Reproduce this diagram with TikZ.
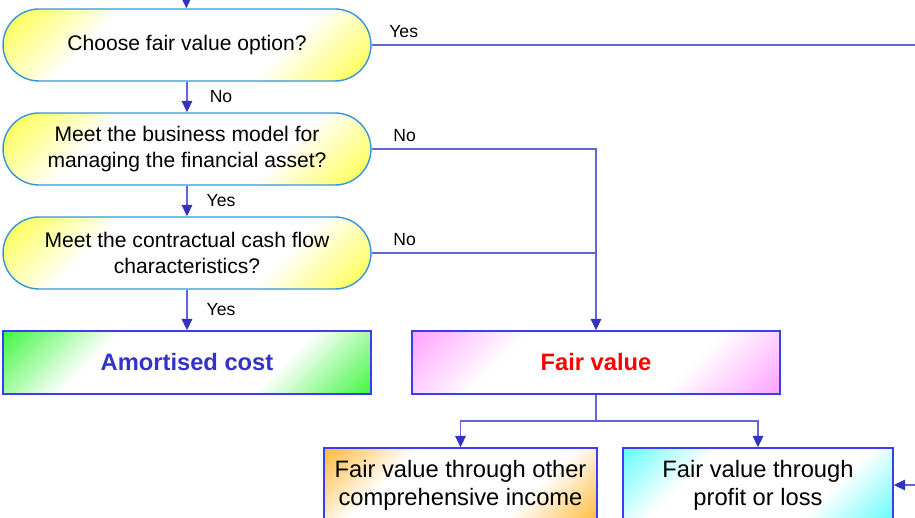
\documentclass[tikz,border=0pt]{standalone}
\usepackage{fontspec}
\setmainfont{Liberation Sans}
\usetikzlibrary{arrows.meta,positioning}

\definecolor{linkblue}{RGB}{100,100,210}
\definecolor{tipblue}{RGB}{51,51,190}
\definecolor{queryedge}{RGB}{51,150,220}
\definecolor{boxedge}{RGB}{60,60,240}
\definecolor{qyellow}{RGB}{255,255,40}
\definecolor{amortgreen}{RGB}{40,245,40}
\definecolor{fvpink}{RGB}{255,150,255}
\definecolor{ociorange}{RGB}{255,176,32}
\definecolor{plcyan}{RGB}{80,250,250}
\definecolor{amortblue}{RGB}{51,51,204}

\newcommand\CornerShading[2]{% name, corner colour
  \pgfdeclarehorizontalshading{#1}{100bp}{color(0bp)=(#2); color(12bp)=(#2);
    color(34bp)=(white); color(66bp)=(white); color(88bp)=(#2); color(100bp)=(#2)}%
}
\CornerShading{queryshade}{qyellow}
\CornerShading{amortshade}{amortgreen}
\CornerShading{fvshade}{fvpink}
\CornerShading{ocishade}{ociorange}
\CornerShading{plshade}{plcyan}

\tikzset{
  query/.style={draw=queryedge, line width=0.8pt, rounded corners=0.72cm,
    minimum width=7.36cm, minimum height=1.44cm, inner sep=0pt, align=center,
    shading=queryshade, shading angle=-45, font=\fontsize{12}{14.8}\selectfont},
  result/.style={draw=boxedge, line width=0.8pt, minimum width=7.36cm,
    minimum height=1.26cm, inner sep=0pt, shading angle=-45,
    font=\bfseries\fontsize{13.5}{16}\selectfont},
  kind/.style={draw=boxedge, line width=0.8pt, minimum height=1.48cm,
    inner sep=0pt, align=center, shading angle=-45,
    font=\fontsize{13.5}{15.9}\selectfont},
  link/.style={draw=linkblue, line width=0.8pt},
  arr/.style={link, -{Triangle[length=6.5pt,width=6pt,color=tipblue]}},
  lbl/.style={inner sep=0pt, font=\fontsize{10}{12}\selectfont},
}

\begin{document}
\begin{tikzpicture}[x=0.02cm, y=-0.02cm]
\useasboundingbox (0,0) rectangle (915,517);
\clip (0,0) rectangle (915,517);
% questions, left column
\node[query] (q1) at (187,45) {Choose fair value option?};
\node[query] (q2) at (187,149) {Meet the business model for\\managing the financial asset?};
\node[query] (q3) at (187,253) {Meet the contractual cash flow\\characteristics?};
% outcomes
\node[result, shading=amortshade, text=amortblue] (amort) at (187,362.5) {Amortised cost};
\node[result, shading=fvshade, text=red] (fv) at (596,362.5) {Fair value};
\node[kind, shading=ocishade, minimum width=5.46cm] (fvoci) at (460.5,485) {Fair value through other\\comprehensive income};
\node[kind, shading=plshade, minimum width=5.4cm] (fvtpl) at (758,485) {Fair value through\\profit or loss};
% free ends at the edges
\coordinate (entry) at (186,-20);
\coordinate (yesout) at (925,45);
\coordinate (split) at (596,421);
\coordinate (back) at (925,485);
% connectors
\draw[arr] (entry) -- (q1);
\draw[link] (q1) -- node[lbl, pos=0, anchor=base west, xshift=0.34cm, yshift=0.15cm] {Yes} (yesout);
\draw[arr] (q1) -- node[lbl, xshift=0.68cm] {No} (q2);
\draw[arr] (q2) -- node[lbl, pos=0, anchor=base west, xshift=0.42cm, yshift=0.15cm] {No} (q2 -| fv) -- (fv);
\draw[arr] (q2) -- node[lbl, xshift=0.68cm] {Yes} (q3);
\draw[link] (q3) -- node[lbl, pos=0, anchor=base west, xshift=0.42cm, yshift=0.15cm] {No} (q3 -| fv);
\draw[arr] (q3) -- node[lbl, xshift=0.68cm] {Yes} (amort);
\draw[link] (fv) -- (split);
\foreach \b in {fvoci,fvtpl} { \draw[arr] (split) -| (\b); }
\draw[arr] (back) -- (fvtpl);
\end{tikzpicture}
\end{document}
